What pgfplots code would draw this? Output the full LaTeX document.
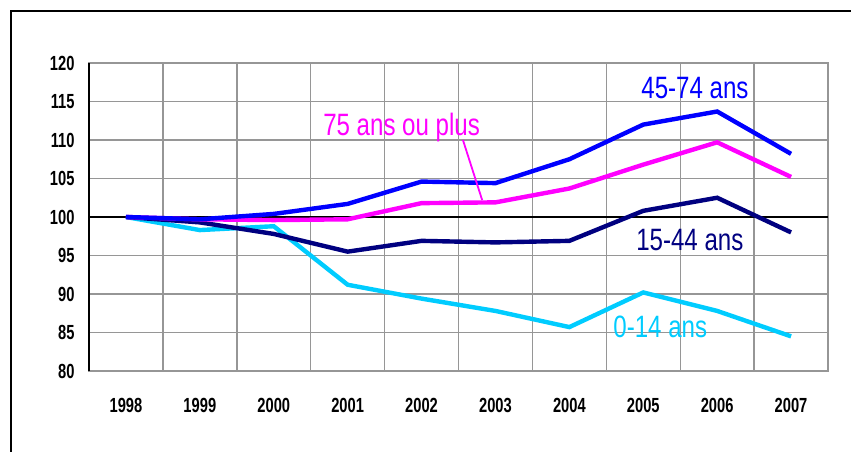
\documentclass[border=0pt]{standalone}
\usepackage{fontspec}
\setmainfont{Liberation Sans}[FakeStretch=0.78]
\newfontfamily\tickfont{Liberation Sans}[FakeStretch=0.72]
\usepackage{pgfplots}
\pgfplotsset{compat=1.18}
\definecolor{gridgray}{RGB}{150,150,150}
\definecolor{s45}{RGB}{0,0,255}
\definecolor{s75}{RGB}{255,0,255}
\definecolor{s15}{RGB}{0,0,128}
\definecolor{s00}{RGB}{0,204,255}
\begin{document}
\begin{tikzpicture}[x=1bp,y=1bp]
\useasboundingbox (0,0) rectangle (851,452);
\draw[black, line width=2.5bp] (11,0) -- (11,441) -- (851,441);
\begin{axis}[
  at={(89bp,81bp)}, anchor=south west,
  width=739bp, height=308bp, scale only axis,
  xmin=-0.5, xmax=9.5, ymin=80, ymax=120,
  xtick={0,...,9},
  xticklabels={1998,1999,2000,2001,2002,2003,2004,2005,2006,2007},
  minor xtick={0.5,1.5,...,8.5},
  ytick={80,85,...,120},
  ymajorgrids, xminorgrids,
  grid style={gridgray, line width=1.4bp},
  minor grid style={gridgray, line width=1.4bp},
  axis line style={gridgray, line width=1.6bp},
  major tick length=0pt, minor tick length=0pt,
  tick label style={font=\tickfont\fontsize{20.5}{22}\selectfont\bfseries},
  /pgf/number format/assume math mode=true,
  yticklabel style={xshift=-11bp},
  xticklabel style={yshift=-24bp},
  clip=false,
]
\draw[black, line width=1.5bp] (axis cs:-0.5,100) -- (axis cs:9.5,100);
\draw[black, line width=2.2bp] (rel axis cs:0,0) -- (rel axis cs:0,1);
% 0-14 ans
\addplot[s00, line width=4.4bp, mark=none] coordinates {
(0,100) (1,98.3) (2,98.8) (3,91.2) (4,89.4) (5,87.8) (6,85.7) (7,90.2) (8,87.8) (9,84.5)};
% 15-44 ans
\addplot[s15, line width=4.4bp, mark=none] coordinates {
(0,100) (1,99.3) (2,97.8) (3,95.5) (4,96.9) (5,96.7) (6,96.9) (7,100.8) (8,102.5) (9,98.0)};
% 75 ans ou plus
\addplot[s75, line width=4.4bp, mark=none] coordinates {
(0,100) (1,99.7) (2,99.6) (3,99.7) (4,101.8) (5,101.9) (6,103.7) (7,106.8) (8,109.7) (9,105.2)};
% 45-74 ans
\addplot[s45, line width=4.4bp, mark=none] coordinates {
(0,100) (1,99.7) (2,100.4) (3,101.7) (4,104.6) (5,104.4) (6,107.5) (7,112.0) (8,113.7) (9,108.2)};
\draw[s75, line width=1.8bp] (axis cs:4.56,110.0) -- (axis cs:4.82,102.2);
\node[s45, font=\fontsize{31}{33}\selectfont] at (axis cs:7.70,116.75) {45-74 ans};
\node[s75, font=\fontsize{31}{33}\selectfont] at (axis cs:3.73,111.6) {75 ans ou plus};
\node[s15, font=\fontsize{31}{33}\selectfont] at (axis cs:7.63,97.0) {15-44 ans};
\node[s00, font=\fontsize{31}{33}\selectfont] at (axis cs:7.23,85.7) {0-14 ans};
\end{axis}
\end{tikzpicture}
\end{document}
